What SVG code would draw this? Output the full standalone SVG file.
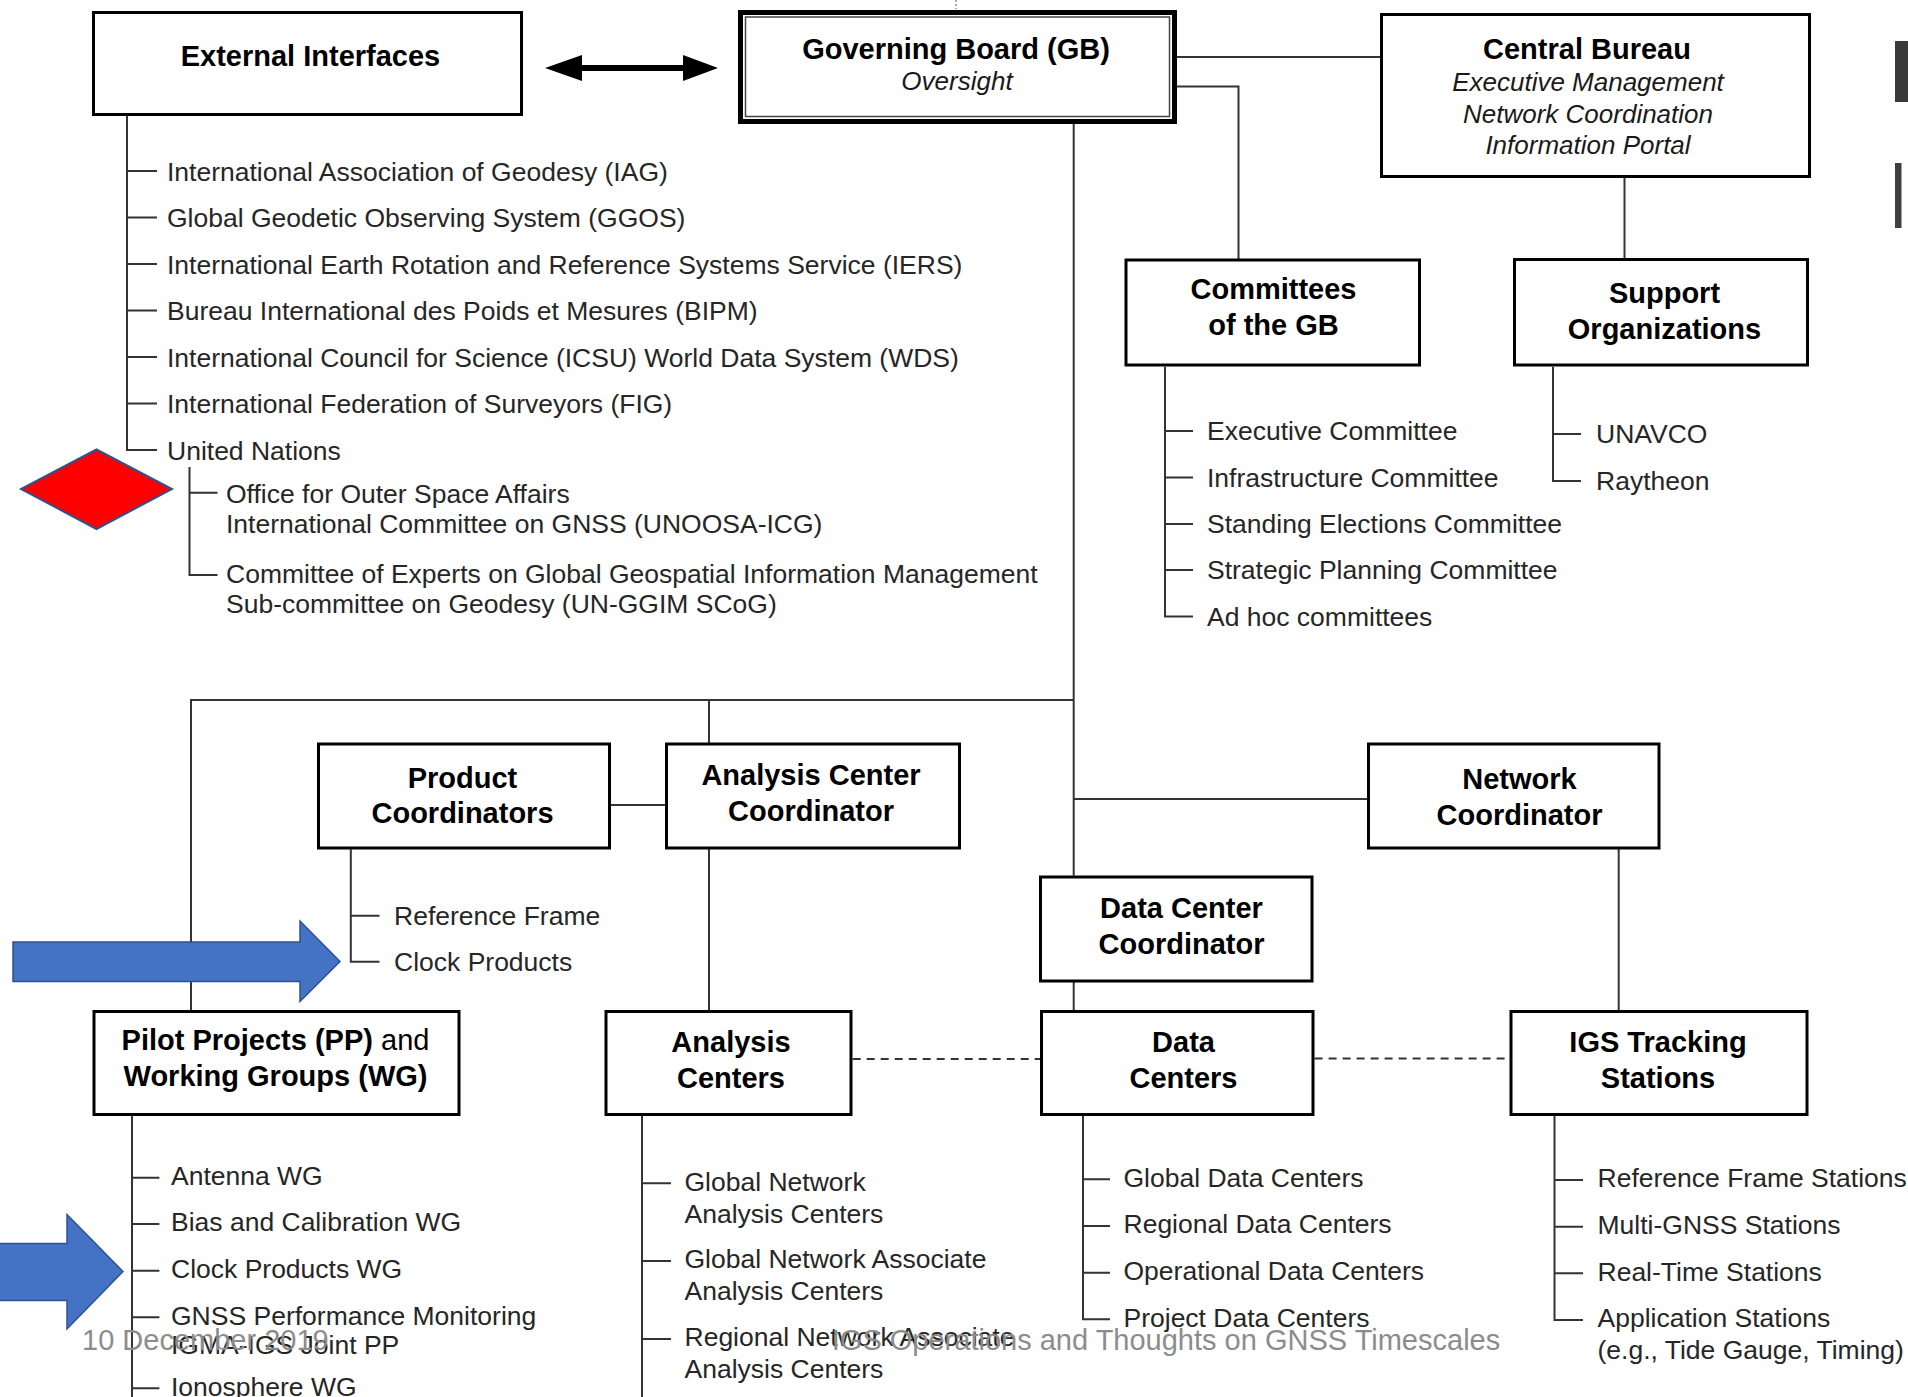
<svg xmlns="http://www.w3.org/2000/svg" width="1908" height="1397" viewBox="0 0 1908 1397">
<style>
text{font-family:"Liberation Sans",Arial,Helvetica,sans-serif}
.box{fill:#fff;stroke:#000;stroke-width:3}
.ttl{font-size:29px;font-weight:bold;fill:#000;text-anchor:middle}
.sub{font-size:26px;font-style:italic;fill:#1a1a1a;text-anchor:middle}
.it{font-size:26.5px;fill:#262626}
.ln{fill:none;stroke:#333;stroke-width:2}
.dash{stroke-dasharray:8 6}
.foot{font-size:29px;fill:#8c8c8c}
.blue{fill:#4472C4;stroke:#2F528F;stroke-width:1.5}
</style>
<rect width="1908" height="1397" fill="#fff"/>

<g id="connectors">
<path class="ln" d="M1073.7,124 V875.7"/>
<path class="ln" d="M1177,57 H1380"/>
<path class="ln" d="M1177,86.5 H1238.5 V259.5"/>
<path class="ln" d="M1624.5,178 V258"/>
<path class="ln" d="M190,700 H1073.7"/>
<path class="ln" d="M191,700 V1010"/>
<path class="ln" d="M709,700 V743"/>
<path class="ln" d="M709,849 V1010"/>
<path class="ln" d="M611,805 H665"/>
<path class="ln" d="M1073.7,799 H1367"/>
<path class="ln" d="M1618.7,849 V1010"/>
<path class="ln" d="M1073.7,982 V1010"/>
<path class="ln dash" d="M852.7,1059 H1040"/>
<path class="ln dash" d="M1314.6,1058.5 H1509"/>
<path d="M956,0 V9" stroke="#555" stroke-width="1" stroke-dasharray="2 2"/>
<polygon fill="#000" points="545,68 582,55 582,65 683,65 683,55 718,68 683,81 683,71 582,71 582,81"/>
</g>

<g id="external-interfaces">
<rect class="box" x="93.5" y="12.5" width="428" height="102"/>
<text class="ttl" x="310.5" y="66">External Interfaces</text>
<path class="ln" d="M127,116 V450 H157 M127,171 H157 M127,217.5 H157 M127,264 H157 M127,310.5 H157 M127,357 H157 M127,403.5 H157"/>
<text class="it" x="167" y="180.5">International Association of Geodesy (IAG)</text>
<text class="it" x="167" y="227">Global Geodetic Observing System (GGOS)</text>
<text class="it" x="167" y="273.5">International Earth Rotation and Reference Systems Service (IERS)</text>
<text class="it" x="167" y="320">Bureau International des Poids et Mesures (BIPM)</text>
<text class="it" x="167" y="366.5">International Council for Science (ICSU) World Data System (WDS)</text>
<text class="it" x="167" y="413">International Federation of Surveyors (FIG)</text>
<text class="it" x="167" y="459.5">United Nations</text>
<path class="ln" d="M189.5,467 V575 H217.5 M189.5,492.7 H217.5"/>
<text class="it" x="226" y="502.5">Office for Outer Space Affairs</text>
<text class="it" x="226" y="532.5">International Committee on GNSS (UNOOSA-ICG)</text>
<text class="it" x="226" y="582.5">Committee of Experts on Global Geospatial Information Management</text>
<text class="it" x="226" y="612.5">Sub-committee on Geodesy (UN-GGIM SCoG)</text>
</g>

<g id="red-diamond">
<polygon points="96.5,449.5 172,489 96.5,529 21,489" fill="#FF0000" stroke="#2F528F" stroke-width="2"/>
</g>

<g id="governing-board">
<rect x="740.5" y="12.5" width="434" height="109" fill="#fff" stroke="#000" stroke-width="5"/>
<rect x="745.5" y="17" width="424" height="99.5" fill="none" stroke="#444" stroke-width="1.5"/>
<text class="ttl" x="956" y="59">Governing Board (GB)</text>
<text class="sub" x="957" y="90">Oversight</text>
</g>

<g id="central-bureau">
<rect class="box" x="1381.5" y="14.5" width="428" height="162"/>
<text class="ttl" x="1587" y="59">Central Bureau</text>
<text class="sub" x="1588" y="90.5">Executive Management</text>
<text class="sub" x="1588" y="122.5">Network Coordination</text>
<text class="sub" x="1588" y="154">Information Portal</text>
</g>

<g id="committees">
<rect class="box" x="1126" y="260" width="293.5" height="105"/>
<text class="ttl" x="1273.5" y="298.5">Committees</text>
<text class="ttl" x="1273.5" y="334.5">of the GB</text>
<path class="ln" d="M1165,366.7 V616.5 H1193 M1165,431 H1193 M1165,477.5 H1193 M1165,524 H1193 M1165,570 H1193"/>
<text class="it" x="1207" y="440">Executive Committee</text>
<text class="it" x="1207" y="486.5">Infrastructure Committee</text>
<text class="it" x="1207" y="533">Standing Elections Committee</text>
<text class="it" x="1207" y="579">Strategic Planning Committee</text>
<text class="it" x="1207" y="625.5">Ad hoc committees</text>
</g>

<g id="support-organizations">
<rect class="box" x="1514.5" y="259.5" width="293" height="105.5"/>
<text class="ttl" x="1664.5" y="302.5">Support</text>
<text class="ttl" x="1664.5" y="338.5">Organizations</text>
<path class="ln" d="M1553,366.7 V481 H1581 M1553,434 H1581"/>
<text class="it" x="1596" y="442.5">UNAVCO</text>
<text class="it" x="1596" y="489.5">Raytheon</text>
</g>

<g id="product-coordinators">
<rect class="box" x="318.5" y="744" width="291" height="104"/>
<text class="ttl" x="462.5" y="787.5">Product</text>
<text class="ttl" x="462.5" y="823">Coordinators</text>
<path class="ln" d="M350.8,849 V961.7 H379.5 M350.8,915.7 H379.5"/>
<text class="it" x="394" y="924.7">Reference Frame</text>
<text class="it" x="394" y="970.7">Clock Products</text>
</g>

<g id="analysis-center-coordinator">
<rect class="box" x="666.5" y="744" width="293" height="104"/>
<text class="ttl" x="811" y="785">Analysis Center</text>
<text class="ttl" x="811" y="821">Coordinator</text>
</g>

<g id="network-coordinator">
<rect class="box" x="1368.5" y="744" width="290.5" height="104"/>
<text class="ttl" x="1519.5" y="788.5">Network</text>
<text class="ttl" x="1519.5" y="824.5">Coordinator</text>
</g>

<g id="data-center-coordinator">
<rect class="box" x="1040.5" y="877" width="271.5" height="104"/>
<text class="ttl" x="1181.5" y="918">Data Center</text>
<text class="ttl" x="1181.5" y="954">Coordinator</text>
</g>

<g id="pilot-projects">
<rect class="box" x="94" y="1011.5" width="365" height="103"/>
<text class="ttl" x="275.5" y="1050">Pilot Projects (PP)<tspan font-weight="normal"> and</tspan></text>
<text class="ttl" x="275.5" y="1086">Working Groups (WG)</text>
<path class="ln" d="M132,1116 V1397 M132,1177.7 H159.4 M132,1224 H159.4 M132,1270.7 H159.4 M132,1317.3 H159.4 M132,1388.3 H159.4"/>
<text class="it" x="171" y="1185">Antenna WG</text>
<text class="it" x="171" y="1231.3">Bias and Calibration WG</text>
<text class="it" x="171" y="1278">Clock Products WG</text>
<text class="it" x="171" y="1324.6">GNSS Performance Monitoring</text>
<text class="it" x="171" y="1353.6">IGMA-IGS Joint PP</text>
<text class="it" x="171" y="1396">Ionosphere WG</text>
</g>

<g id="analysis-centers">
<rect class="box" x="606" y="1011.5" width="245" height="103"/>
<text class="ttl" x="731" y="1052">Analysis</text>
<text class="ttl" x="731" y="1088">Centers</text>
<path class="ln" d="M642,1116 V1397 M642,1183.3 H671 M642,1261 H671 M642,1339 H671"/>
<text class="it" x="684.5" y="1190.6">Global Network</text>
<text class="it" x="684.5" y="1222.6">Analysis Centers</text>
<text class="it" x="684.5" y="1268.3">Global Network Associate</text>
<text class="it" x="684.5" y="1300.3">Analysis Centers</text>
<text class="it" x="684.5" y="1346.3">Regional Network Associate</text>
<text class="it" x="684.5" y="1378.3">Analysis Centers</text>
</g>

<g id="data-centers">
<rect class="box" x="1041.5" y="1011.5" width="271.5" height="103"/>
<text class="ttl" x="1183.5" y="1052">Data</text>
<text class="ttl" x="1183.5" y="1088">Centers</text>
<path class="ln" d="M1083,1116 V1319.3 H1110 M1083,1179.3 H1110 M1083,1226 H1110 M1083,1272.7 H1110"/>
<text class="it" x="1123.5" y="1186.6">Global Data Centers</text>
<text class="it" x="1123.5" y="1233.3">Regional Data Centers</text>
<text class="it" x="1123.5" y="1280">Operational Data Centers</text>
<text class="it" x="1123.5" y="1326.6">Project Data Centers</text>
</g>

<g id="igs-tracking-stations">
<rect class="box" x="1511" y="1011.5" width="296" height="103"/>
<text class="ttl" x="1658" y="1052">IGS Tracking</text>
<text class="ttl" x="1658" y="1088">Stations</text>
<path class="ln" d="M1554.5,1116 V1320 H1583 M1554.5,1180 H1583 M1554.5,1226.7 H1583 M1554.5,1273.3 H1583"/>
<text class="it" x="1597.5" y="1187.3">Reference Frame Stations</text>
<text class="it" x="1597.5" y="1234">Multi-GNSS Stations</text>
<text class="it" x="1597.5" y="1280.6">Real-Time Stations</text>
<text class="it" x="1597.5" y="1327.3">Application Stations</text>
<text class="it" x="1597.5" y="1359.3">(e.g., Tide Gauge, Timing)</text>
</g>

<g id="blue-arrows">
<polygon class="blue" points="13,942 300,942 300,921 340,961.5 300,1001.5 300,981.5 13,981.5"/>
<polygon class="blue" points="-2,1243.5 67,1243.5 67,1214.5 123,1271.5 67,1329 67,1300.5 -2,1300.5"/>
</g>

<g id="footer">
<text class="foot" x="82" y="1350">10 December 2019</text>
<text class="foot" x="1166" y="1350" text-anchor="middle">IGS Operations and Thoughts on GNSS Timescales</text>
</g>

<g id="edge-marks">
<rect x="1895" y="41" width="13" height="61" fill="#3a3a3a"/>
<rect x="1895" y="163" width="6.5" height="65" fill="#3f3f3f"/>
</g>
</svg>
